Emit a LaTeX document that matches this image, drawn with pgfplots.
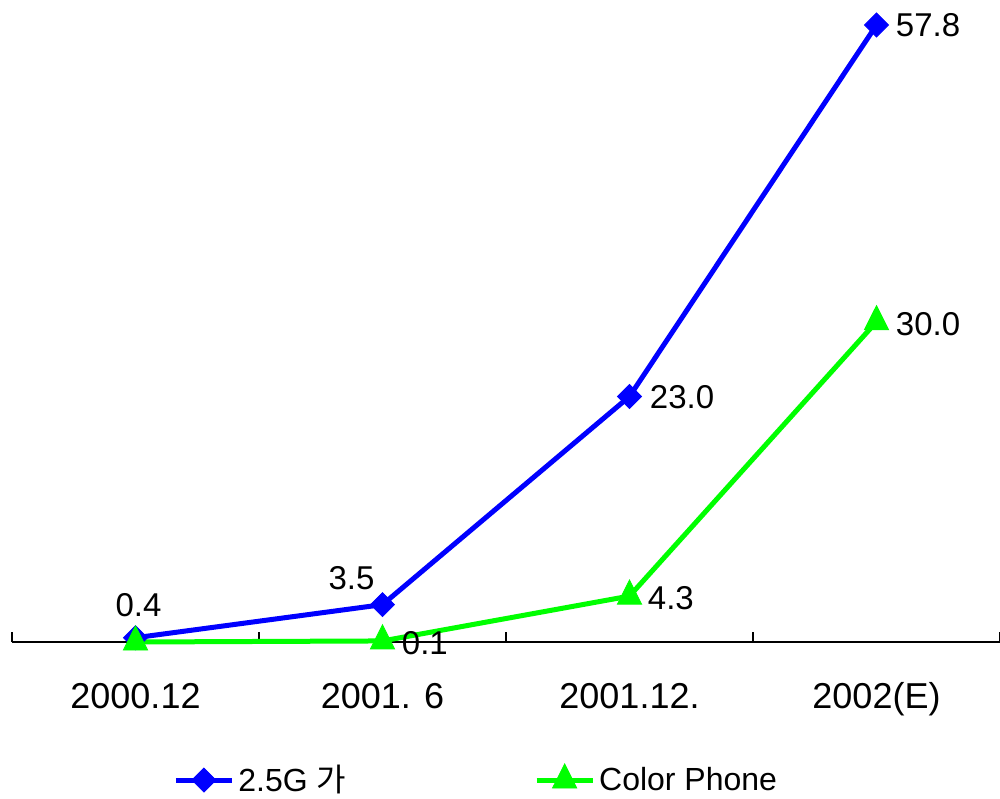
\documentclass[border=0pt]{standalone}
\usepackage{fontspec}
\setmainfont{Liberation Sans}
\newfontfamily\kr{Noto Sans CJK KR}
\usepackage{pgfplots}
\pgfplotsset{compat=1.18}
\definecolor{serblue}{RGB}{0,0,255}
\definecolor{sergreen}{RGB}{0,255,0}

\begin{document}
\begin{tikzpicture}
\useasboundingbox (0,0) rectangle (500pt,399pt);
\begin{axis}[
  at={(6pt,78pt)}, anchor=south west,
  scale only axis, width=494pt, height=321pt,
  xmin=-0.5, xmax=3.5, ymin=0, ymax=60.14,
  axis x line*=bottom, axis y line=none, ytick=\empty,
  xtick={0,1,2,3},
  xticklabels={2000.12, 2001. 6, 2001.12., 2002(E)},
  major tick length=0pt,
  extra x ticks={-0.5,0.5,1.5,2.5,3.5},
  extra x tick labels={},
  extra x tick style={major tick length=5pt, tick align=inside,
    tick style={black, line width=0.75pt}},
  x axis line style={black, line width=1pt},
  xticklabel style={font=\fontsize{18pt}{20pt}\selectfont, anchor=base, yshift=-33pt},
  clip=false,
  legend columns=2,
  legend style={at={(0.163,-0.215)}, anchor=west, draw=none, fill=none,
    inner sep=0pt, font=\fontsize{16pt}{18pt}\selectfont,
    nodes={inner sep=2pt},
    /tikz/every even column/.append style={column sep=92pt}},
  legend image code/.code={
    \draw[#1, mark repeat=2, mark phase=2]
      plot coordinates {(0pt,0pt) (14pt,0pt) (28pt,0pt)};},
]
\addplot[serblue, line width=2.5pt, mark=diamond*,
  mark options={solid, line width=0.4pt, xscale=1.33, mark size=6pt}]
  coordinates {(0,0.4) (1,3.5) (2,23.0) (3,57.8)};
\addlegendentry{2.5G {\kr 가}}
\addplot[sergreen, line width=2.5pt, mark=triangle*,
  mark options={solid, line width=0.4pt, yscale=1.15, mark size=7pt}]
  coordinates {(0,0.0) (1,0.1) (2,4.3) (3,30.0)};
\addlegendentry{Color Phone}

% data labels
\begin{scope}[every node/.style={font=\fontsize{16.5pt}{18pt}\selectfont, inner sep=0pt}]
\node[anchor=center] at (axis cs:0,0.4) [xshift=1.5pt, yshift=16.5pt] {0.4};
\node[anchor=center] at (axis cs:1,3.5) [xshift=-15.5pt, yshift=13.5pt] {3.5};
\node[anchor=west] at (axis cs:2,23.0) [xshift=10pt, yshift=-0.5pt] {23.0};
\node[anchor=west] at (axis cs:3,57.8) [xshift=9.5pt] {57.8};
\node[anchor=west] at (axis cs:1,0.1) [xshift=9.5pt, yshift=-1pt] {0.1};
\node[anchor=west] at (axis cs:2,4.3) [xshift=9pt, yshift=-1pt] {4.3};
\node[anchor=west] at (axis cs:3,30.0) [xshift=9.5pt, yshift=-1pt] {30.0};
\end{scope}
\end{axis}
\end{tikzpicture}
\end{document}
